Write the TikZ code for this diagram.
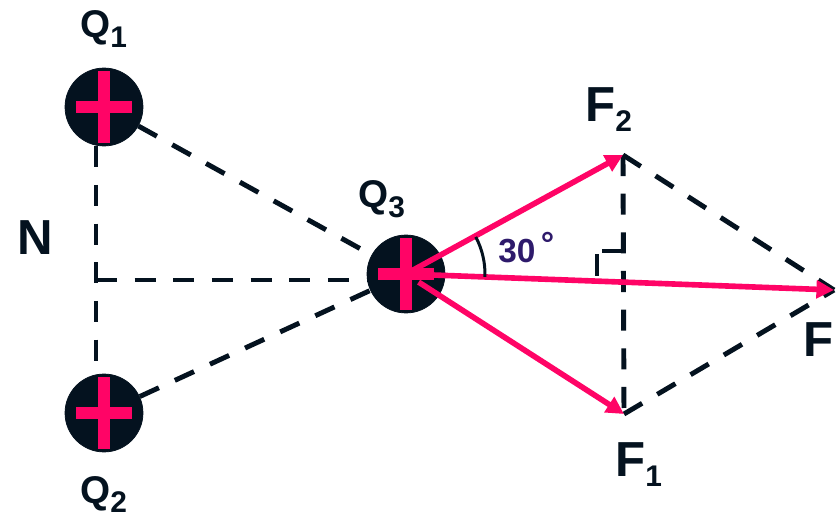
\documentclass[tikz,border=0pt]{standalone}
\usepackage{fontspec}
\setmainfont{Liberation Sans}
\usetikzlibrary{arrows.meta}
\definecolor{navy}{HTML}{04121F}
\definecolor{vpink}{HTML}{FF0466}
\definecolor{angpurple}{HTML}{2E1A6B}
\newcommand{\lowsub}[1]{\raisebox{-5.5pt}{\fontsize{17}{17}\selectfont #1}}

\begin{document}
\begin{tikzpicture}[
    x=0.02cm, y=-0.02cm,
    charge/.style={circle, fill=navy, draw=navy, minimum size=1.56cm, inner sep=0pt},
    plusbar/.style={vpink, line width=0.23cm},
    dline/.style={navy, line width=2.8pt, dash pattern=on 12pt off 10pt},
    force/.style={vpink, line width=3.2pt, -{Triangle[length=10pt,width=10pt]}},
    qlabel/.style={anchor=base west, inner sep=0pt, text=navy, font=\fontsize{22}{22}\selectfont\bfseries},
    flabel/.style={anchor=base west, inner sep=0pt, text=navy, font=\fontsize{28}{28}\selectfont\bfseries}
  ]
  \useasboundingbox (0,0) rectangle (836,520);

  \node[charge] (Q1) at (104,107) {};
  \node[charge] (Q2) at (104,413) {};
  \node[charge] (Q3) at (406,274) {};

  \coordinate (foot) at (96,280);
  \coordinate (F2) at (623,155);
  \coordinate (F1) at (624,414);
  \coordinate (F) at (834,290);

  % dashed construction lines
  \draw[dline] ([xshift=-0.16cm]Q1.south) -- ([xshift=-0.16cm]Q2.north);
  \draw[dline] (foot) -- (foot -| Q3.west);
  \draw[dline] (Q1) -- (Q3);
  \draw[dline] (Q2) -- (Q3);
  \draw[dline] (F2) -- (F1);
  \draw[dline] (F2) -- (F);
  \draw[dline] (F1) -- (F);

  % right angle mark
  \draw[navy, line width=2.6pt] (597,276) -- (597,254);
  \draw[navy, line width=2.4pt] (602,251) -- (623,251);

  % forces
  \draw[force] (Q3.center) -- (F2);
  \draw[force] (Q3.center) -- (F);
  \draw[force, shorten <=0.3cm] (Q3.center) -- (F1);

  \foreach \q in {Q1,Q2,Q3} {
    \draw[plusbar] ([yshift=0.72cm]\q.center) -- ([yshift=-0.72cm]\q.center);
    \draw[plusbar] ([xshift=-0.56cm]\q.center) -- ([xshift=0.56cm]\q.center);
  }

  % angle
  \draw[navy, line width=1.7pt] ([shift={(-2:1.58cm)}]Q3.center) arc[start angle=-2, end angle=28, radius=1.58cm];
  \node[anchor=base west, inner sep=0pt, text=angpurple, font=\fontsize{19}{19}\selectfont\bfseries] (ang) at (498,263) {30\hspace{3pt}\raisebox{4pt}{°}};

  % labels
  \node[qlabel] (q1lbl) at (80,38) {Q\lowsub{1}};
  \node[qlabel] (q2lbl) at (80,503) {Q\lowsub{2}};
  \node[qlabel] (q3lbl) at (358,208) {Q\lowsub{3}};
  \node[flabel] (f2lbl) at (585,122) {F\lowsub{2}};
  \node[flabel] (f1lbl) at (615,477) {F\lowsub{1}};
  \node[flabel] (flbl) at (803,357) {F};
  \node[flabel] (nlbl) at (17,255) {N};
\end{tikzpicture}
\end{document}
